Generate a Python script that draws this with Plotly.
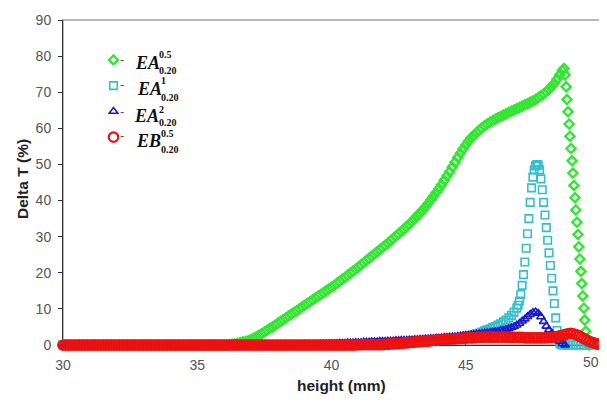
import numpy as np
import plotly.graph_objects as go

# ---------------- data ----------------
X_TICKS = [30, 35, 40, 45, 50]
Y_TICKS = [0, 10, 20, 30, 40, 50, 60, 70, 80, 90]

SERIES_MAIN = ["EA", "EA", "EA", "EB"]
SERIES_SUP = ["0.5", "1", "2", "0.5"]
SERIES_SUB = ["0.20", "0.20", "0.20", "0.20"]

# EA 0.5 (green diamonds): 0.1 mm scan from 30.0 to 48.6 mm
GREEN_T = [
    0, 0, 0, 0, 0, 0, 0, 0, 0, 0,
    0, 0, 0, 0, 0, 0, 0, 0, 0, 0,
    0, 0, 0, 0, 0, 0, 0, 0, 0, 0,
    0, 0, 0, 0, 0, 0, 0, 0, 0, 0,
    0, 0, 0, 0, 0, 0, 0, 0, 0, 0,
    0, 0, 0, 0, 0, 0, 0, 0, 0, 0,
    0.0, 0.0, 0.1, 0.2, 0.3, 0.4, 0.6, 0.8, 1.0, 1.2,
    1.5, 1.9, 2.3, 2.7, 3.1, 3.6, 4.1, 4.6, 5.0, 5.5,
    6.0, 6.5, 7.0, 7.5, 8.0, 8.5, 9.0, 9.5, 10.0, 10.5,
    11.0, 11.5, 12.0, 12.5, 13.0, 13.5, 14.0, 14.5, 15.0, 15.5,
    16.0, 16.5, 17.1, 17.6, 18.2, 18.7, 19.3, 19.9, 20.4, 21.0,
    21.6, 22.2, 22.8, 23.4, 24.0, 24.6, 25.2, 25.8, 26.4, 27.0,
    27.6, 28.2, 28.9, 29.5, 30.2, 30.8, 31.5, 32.1, 32.8, 33.5,
    34.2, 35.0, 35.8, 36.6, 37.4, 38.3, 39.2, 40.2, 41.2, 42.2,
    43.3, 44.4, 45.6, 46.8, 48.0, 49.3, 50.6, 51.9, 53.1, 54.3,
    55.4, 56.4, 57.3, 58.1, 58.8, 59.5, 60.1, 60.7, 61.2, 61.7,
    62.1, 62.5, 62.9, 63.3, 63.7, 64.0, 64.4, 64.7, 65.1, 65.4,
    65.8, 66.1, 66.5, 66.8, 67.2, 67.6, 68.0, 68.5, 69.0, 69.5,
    70.1, 70.8, 71.6, 72.5, 73.6, 74.8, 76.0,
]
# EA 0.5 falling edge (finer sampling)
GREEN_TAIL_H = [48.66, 48.70, 48.74, 48.77, 48.81, 48.85, 48.88, 48.92, 48.96,
                48.99, 49.03, 49.07, 49.10, 49.14, 49.18, 49.21, 49.25, 49.29,
                49.32, 49.36, 49.40, 49.43, 49.47, 49.51, 49.55, 49.60]
GREEN_TAIL_T = [76.6, 74.8, 71.5, 68.0, 64.6, 61.2, 57.8, 54.4, 51.0,
                47.6, 44.2, 40.8, 37.4, 34.0, 30.6, 27.2, 23.8, 20.4,
                17.0, 13.6, 10.2, 6.9, 3.8, 1.4, 0.3, 0.0]

# EA 1 (cyan squares): 0.1 mm from 30.0 to 46.9, 0.05 mm to 48.6, 0.1 mm to 50.0
CYAN_T_LOW = [
    0, 0, 0, 0, 0, 0, 0, 0, 0, 0,
    0, 0, 0, 0, 0, 0, 0, 0, 0, 0,
    0, 0, 0, 0, 0, 0, 0, 0, 0, 0,
    0, 0, 0, 0, 0, 0, 0, 0, 0, 0,
    0, 0, 0, 0, 0, 0, 0, 0, 0, 0,
    0, 0, 0, 0, 0, 0, 0, 0, 0, 0,
    0, 0, 0, 0, 0, 0, 0, 0, 0, 0,
    0, 0, 0, 0, 0, 0, 0, 0, 0, 0,
    0, 0, 0, 0, 0, 0, 0, 0, 0, 0,
    0, 0, 0, 0, 0, 0, 0, 0, 0, 0,
    0.1, 0.1, 0.1, 0.1, 0.2, 0.2, 0.2, 0.2, 0.3, 0.3,
    0.3, 0.3, 0.4, 0.4, 0.4, 0.4, 0.5, 0.5, 0.5, 0.6,
    0.6, 0.6, 0.7, 0.7, 0.7, 0.8, 0.8, 0.8, 0.9, 0.9,
    1.0, 1.0, 1.1, 1.1, 1.2, 1.2, 1.3, 1.3, 1.4, 1.4,
    1.5, 1.5, 1.6, 1.7, 1.7, 1.8, 1.9, 2.0, 2.0, 2.1,
    2.3, 2.5, 2.7, 2.9, 3.1, 3.3, 3.6, 3.9, 4.2, 4.5,
    4.8, 5.1, 5.5, 5.9, 6.4, 6.9, 7.5, 8.2, 9.1, 10.2,
]
CYAN_T_PEAK = [
    11.0, 12.2, 14.0, 16.5, 19.5, 23.0, 26.8, 30.8, 35.0, 39.5,
    43.5, 46.5, 48.5, 49.6, 50.0, 49.8, 48.5, 46.0, 43.0, 39.5,
    36.0, 32.5, 29.0, 25.5, 22.0, 18.5, 15.0, 11.5, 7.5, 4.0,
    1.8, 0.6, 0.1, 0.0,
]
CYAN_T_HIGH = [0, 0, 0, 0, 0, 0, 0, 0, 0, 0, 0, 0, 0, 0]

# EA 2 (blue triangles): 0.1 mm from 30.0 to 48.7
BLUE_T = [
    0, 0, 0, 0, 0, 0, 0, 0, 0, 0,
    0, 0, 0, 0, 0, 0, 0, 0, 0, 0,
    0, 0, 0, 0, 0, 0, 0, 0, 0, 0,
    0, 0, 0, 0, 0, 0, 0, 0, 0, 0,
    0, 0, 0, 0, 0, 0, 0, 0, 0, 0,
    0, 0, 0, 0, 0, 0, 0, 0, 0, 0,
    0, 0, 0, 0, 0, 0, 0, 0, 0, 0,
    0, 0, 0, 0, 0, 0, 0, 0, 0, 0,
    0.1, 0.1, 0.1, 0.1, 0.1, 0.1, 0.1, 0.1, 0.1, 0.1,
    0.2, 0.2, 0.2, 0.2, 0.2, 0.2, 0.3, 0.3, 0.3, 0.3,
    0.4, 0.4, 0.4, 0.5, 0.5, 0.5, 0.6, 0.6, 0.6, 0.7,
    0.7, 0.7, 0.8, 0.8, 0.8, 0.9, 0.9, 0.9, 1.0, 1.0,
    1.0, 1.1, 1.1, 1.1, 1.2, 1.2, 1.3, 1.3, 1.3, 1.4,
    1.4, 1.5, 1.5, 1.6, 1.6, 1.7, 1.7, 1.8, 1.8, 1.9,
    1.9, 2.0, 2.1, 2.1, 2.2, 2.3, 2.3, 2.4, 2.5, 2.6,
    2.7, 2.7, 2.8, 2.9, 3.0, 3.1, 3.2, 3.3, 3.4, 3.5,
    3.6, 3.7, 3.8, 4.0, 4.1, 4.3, 4.5, 4.8, 5.1, 5.5,
    6.0, 6.6, 7.2, 7.9, 8.5, 9.0, 9.2, 8.8, 7.8, 6.5,
    5.2, 4.2, 3.3, 2.5, 1.7, 1.0, 0.4, 0.0,
]

# EB 0.5 (red circles): 0.1 mm from 30.0 to 50.0
RED_T = [
    0, 0, 0, 0, 0, 0, 0, 0, 0, 0,
    0, 0, 0, 0, 0, 0, 0, 0, 0, 0,
    0, 0, 0, 0, 0, 0, 0, 0, 0, 0,
    0, 0, 0, 0, 0, 0, 0, 0, 0, 0,
    0, 0, 0, 0, 0, 0, 0, 0, 0, 0,
    0, 0, 0, 0, 0, 0, 0, 0, 0, 0,
    0, 0, 0, 0, 0, 0, 0, 0, 0, 0,
    0, 0, 0, 0, 0, 0, 0, 0, 0, 0,
    0, 0, 0, 0, 0, 0, 0, 0, 0, 0,
    0, 0, 0, 0, 0, 0, 0, 0, 0, 0,
    0, 0, 0, 0, 0, 0, 0, 0, 0, 0,
    0.1, 0.1, 0.1, 0.1, 0.1, 0.1, 0.1, 0.1, 0.1, 0.1,
    0.2, 0.2, 0.3, 0.3, 0.4, 0.4, 0.5, 0.5, 0.6, 0.7,
    0.7, 0.8, 0.9, 0.9, 1.0, 1.1, 1.1, 1.2, 1.3, 1.3,
    1.4, 1.5, 1.5, 1.6, 1.6, 1.7, 1.7, 1.8, 1.8, 1.9,
    1.9, 2.0, 2.0, 2.0, 2.1, 2.1, 2.1, 2.2, 2.2, 2.2,
    2.2, 2.2, 2.2, 2.2, 2.2, 2.2, 2.1, 2.1, 2.1, 2.1,
    2.1, 2.1, 2.0, 2.0, 2.0, 2.0, 2.0, 2.0, 2.0, 2.0,
    2.0, 2.1, 2.1, 2.2, 2.3, 2.5, 2.7, 2.9, 3.1, 3.2,
    3.1, 2.9, 2.6, 2.2, 1.8, 1.4, 1.0, 0.7, 0.5, 0.3,
    0.2,
]


def scan(a, b, step):
    """Scan positions of the instrument (mm)."""
    return np.round(np.arange(a, b + step / 2, step), 2)


green_h = np.concatenate([scan(30.0, 48.6, 0.1), GREEN_TAIL_H])
green_t = GREEN_T + GREEN_TAIL_T
cyan_h = np.concatenate([scan(30.0, 46.9, 0.1), scan(46.95, 48.6, 0.05), scan(48.7, 50.0, 0.1)])
cyan_t = CYAN_T_LOW + CYAN_T_PEAK + CYAN_T_HIGH
blue_h = scan(30.0, 48.7, 0.1)
red_h = scan(30.0, 50.0, 0.1)

assert len(green_h) == len(green_t), (len(green_h), len(green_t))
assert len(cyan_h) == len(cyan_t), (len(cyan_h), len(cyan_t))
assert len(blue_h) == len(BLUE_T), (len(blue_h), len(BLUE_T))
assert len(red_h) == len(RED_T), (len(red_h), len(RED_T))

# ---------------- figure ----------------
# The page body has an 8 px margin, so the figure is drawn shifted by 8 px and
# kept short enough that the page never needs a scrollbar.
OFF = 8
W, H = 607 - OFF, 403 - 2 * OFF
L, R, T, B = 63, 600, 20, 345  # plot area in window pixels
VIS_RIGHT = 600                 # right-most visible window pixel


def px(x):
    return (x - L) / (R - L)


def py(y):
    return (B - y) / (B - T)


COLORS = ["#33e633", "#33bfcc", "#1a1acc", "#ee1111"]
SYMBOLS = ["diamond-open", "square-open", "triangle-up-open", "circle-open"]
SIZES = [7, 7.5, 7.5, 9.5]
WIDTHS = [2.4, 1.6, 1.6, 2.2]

series = [(green_h, green_t), (cyan_h, cyan_t), (blue_h, BLUE_T), (red_h, RED_T)]

fig = go.Figure()
for (hx, ty), c, s, sz, lw in zip(series, COLORS, SYMBOLS, SIZES, WIDTHS):
    fig.add_trace(go.Scatter(
        x=hx, y=ty, mode="markers", name=" ",
        marker=dict(symbol=s, size=sz, color=c, line=dict(color=c, width=lw)),
        cliponaxis=False,
    ))

annotations = []
rows = [
    # (main x, main y, sup/sub x, sup y, sub y)
    (134, 63.0, 158, 55.0, 70.0),
    (136, 89.5, 160, 80.5, 97.0),
    (133, 116.0, 158, 109.0, 122.0),
    (135, 141.0, 160, 133.0, 149.0),
]
marker_y = [59.5, 84.5, 111.5, 136.0]
for i, (mx, my, sx, sy, suby) in enumerate(rows):
    annotations.append(dict(x=px(mx), y=py(my), xref="paper", yref="paper",
                            text="<b><i>%s</i></b>" % SERIES_MAIN[i], showarrow=False,
                            xanchor="left", yanchor="middle", borderpad=0,
                            font=dict(family="Liberation Serif", size=18, color="#111")))
    annotations.append(dict(x=px(sx), y=py(sy), xref="paper", yref="paper",
                            text="<b>%s</b>" % SERIES_SUP[i], showarrow=False,
                            xanchor="left", yanchor="middle", borderpad=0,
                            font=dict(family="Liberation Serif", size=10, color="#111")))
    annotations.append(dict(x=px(sx), y=py(suby), xref="paper", yref="paper",
                            text="<b>%s</b>" % SERIES_SUB[i], showarrow=False,
                            xanchor="left", yanchor="middle", borderpad=0,
                            font=dict(family="Liberation Serif", size=10, color="#111")))
    annotations.append(dict(x=px(119), y=py(marker_y[i]), xref="paper", yref="paper",
                            text="-", showarrow=False, xanchor="left", yanchor="middle",
                            borderpad=0,
                            font=dict(family="Liberation Sans", size=13, color="#555")))

# last x tick label, kept inside the visible window
annotations.append(dict(x=px(VIS_RIGHT), y=py(362), xref="paper", yref="paper",
                        text=str(X_TICKS[-1]), showarrow=False,
                        xanchor="right", yanchor="middle", borderpad=0,
                        font=dict(family="Liberation Sans", size=14, color="#555")))
annotations.append(dict(x=px(341), y=py(385), xref="paper", yref="paper",
                        text="<b>height (mm)</b>", showarrow=False,
                        xanchor="center", yanchor="middle",
                        font=dict(family="Liberation Sans", size=15.5, color="#222")))
annotations.append(dict(x=px(22), y=py(179), xref="paper", yref="paper",
                        text="<b>Delta T (%)</b>", showarrow=False, textangle=-90,
                        xanchor="center", yanchor="middle",
                        font=dict(family="Liberation Sans", size=15.5, color="#222")))

fig.update_layout(
    width=W, height=H,
    margin=dict(l=L - OFF, r=W - (R - OFF), t=T - OFF, b=H - (B - OFF)),
    paper_bgcolor="white", plot_bgcolor="white",
    showlegend=True,
    legend=dict(x=px(93.5), y=py(42), xanchor="left", yanchor="top",
                bgcolor="rgba(0,0,0,0)", font=dict(size=17.5),
                traceorder="normal", itemclick=False),
    annotations=annotations,
    shapes=[dict(type="rect", xref="paper", yref="paper", x0=0, x1=1, y0=0, y1=1,
                 line=dict(color="#a0a0a0", width=1.5), layer="below")],
)
fig.update_xaxes(
    range=[30, 50], tickvals=X_TICKS,
    ticktext=[str(v) for v in X_TICKS[:-1]] + [""],
    showgrid=False, zeroline=False, showline=True, linecolor="#333", linewidth=1,
    ticks="inside", ticklen=5, tickcolor="#333", layer="below traces",
    ticklabelstandoff=7, automargin=False,
    tickfont=dict(family="Liberation Sans", size=14, color="#555"),
)
fig.update_yaxes(
    range=[0, 90], tickvals=Y_TICKS, ticktext=[str(v) for v in Y_TICKS],
    showgrid=False, zeroline=False, showline=True, linecolor="#333", linewidth=1,
    ticks="outside", ticklen=4, tickcolor="#333", layer="below traces",
    ticklabelstandoff=4, automargin=False,
    tickfont=dict(family="Liberation Sans", size=14, color="#555"),
)

fig.write_html("out.html")
